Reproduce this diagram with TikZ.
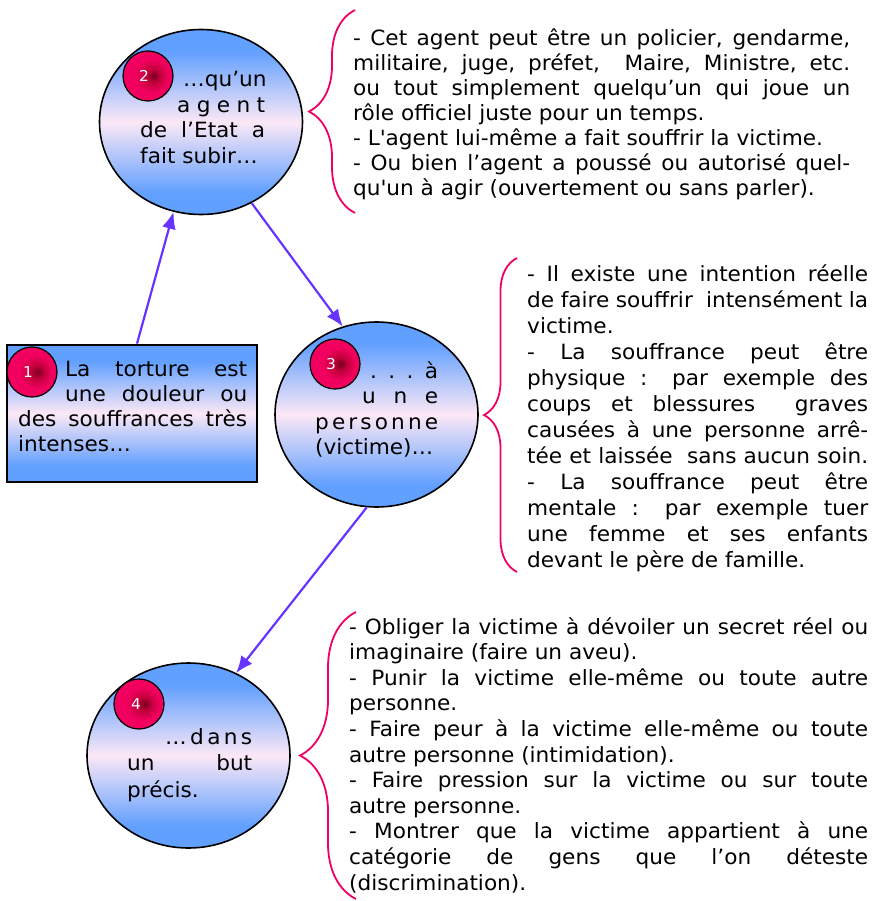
\documentclass[tikz,border=0pt]{standalone}
\usepackage{fontspec}
\setmainfont[FakeStretch=1.03]{DejaVu Sans}
\usepackage{tikz}
\usetikzlibrary{shapes,arrows.meta,positioning,calc,decorations.pathreplacing}
\definecolor{bulleblue}{RGB}{98,160,255}
\definecolor{bullepink}{RGB}{252,232,246}
\definecolor{badgered}{RGB}{242,0,95}
\definecolor{badgemid}{RGB}{195,0,60}
\definecolor{badgedark}{RGB}{120,0,30}
\definecolor{flecheviolet}{RGB}{102,51,255}
\definecolor{accoladerose}{RGB}{240,0,100}
\pgfdeclareverticalshading{bulleshade}{100bp}{color(0bp)=(bulleblue); color(25bp)=(bulleblue); color(31bp)=(bulleblue); color(50bp)=(bullepink); color(69bp)=(bulleblue); color(75bp)=(bulleblue); color(100bp)=(bulleblue)}
\pgfdeclareradialshading{badgeshade}{\pgfpoint{6bp}{0bp}}{color(0bp)=(badgedark); color(7bp)=(badgemid); color(17bp)=(badgered); color(25bp)=(badgered); color(50bp)=(badgered)}
\newcommand{\bloc}[2]{\vtop{\hsize=#1\relax #2}}
\newcommand{\jline}[1]{\hbox to\hsize{#1}}
\newcommand{\pline}[1]{\hbox to\hsize{#1\hfil}}
\tikzset{
    bubble/.style={
        ellipse,
        draw,
        line width=1.6pt,
        minimum width=203pt,
        minimum height=185pt,
        shade,
        shading=bulleshade
    },
    startbox/.style={
        rectangle,
        draw,
        line width=2.8pt,
        minimum width=250pt,
        minimum height=137pt,
        shade,
        shading=bulleshade
    },
    badge/.style={
        circle,
        draw,
        line width=1.2pt,
        minimum size=50pt,
        inner sep=0pt,
        shade,
        shading=badgeshade,
        text=white,
        font=\fontsize{15}{15}\selectfont
    },
    txt/.style={
        inner sep=0pt,
        anchor=base west,
        font=\fontsize{21}{25.5}\selectfont
    },
    arrow/.style={
        -{Latex[length=17pt,width=14pt]},
        line width=2.2pt,
        flecheviolet
    },
    accolade/.style={
        decorate,
        line width=1.8pt,
        accoladerose
    }
}

\begin{document}
\begin{tikzpicture}[x=1pt, y=-1pt]
        \useasboundingbox (0,0) rectangle (876,901);

        % Shapes
        \node (c2) [bubble] at (201,122) {};
        \node (c3) [bubble] at (376.5,414.5) {};
        \node (c4) [bubble] at (188.5,755.5) {};
        \node (r1) [startbox] at (132,413.5) {};

        % Badges
        \node (b1) [badge] at (32,372) {\kern-8pt 1};
        \node (b2) [badge] at (148,76) {\kern-8pt 2};
        \node (b3) [badge] at (335,364) {\kern-8pt 3};
        \node (b4) [badge] at (139,704) {\kern-6pt 4};

        % Texts in the shapes
        \node (t1) [txt, font=\fontsize{21}{25.3}\selectfont] at (18,376) {\bloc{229pt}{%
            \jline{\hskip47pt La\hfill torture\hfill est}%
            \jline{\hskip47pt une\hfill douleur\hfill ou}%
            \jline{des\hfill souffrances\hfill très}%
            \pline{intenses…}}};
        \node (t2) [txt] at (140,87) {\bloc{125pt}{%
            \jline{\hskip43pt …qu’un}%
            \jline{\hskip37pt a\hfill g\hfill e\hfill n\hfill t}%
            \jline{de\hfill l’Etat\hfill a}%
            \pline{fait subir…}}};
        \node (t3) [txt] at (315,378) {\bloc{123pt}{%
            \jline{\hskip55pt .\hfill .\hfill .\hfill à}%
            \jline{\hskip47pt u\hfill n\hfill e}%
            \jline{p\hfill e\hfill r\hfill s\hfill o\hfill n\hfill n\hfill e}%
            \pline{(victime)…}}};
        \node (t4) [txt, font=\fontsize{21}{26.5}\selectfont] at (127,744) {\bloc{125pt}{%
            \jline{\hskip38pt …\hfill d\hfill a\hfill n\hfill s}%
            \jline{un\hfill but}%
            \pline{précis.}}};

        % Explanations
        \node (e2) [txt, font=\fontsize{21}{25}\selectfont] at (353,46) {\bloc{497pt}{%
            \jline{- Cet agent peut être un policier, gendarme,}%
            \jline{militaire, juge, préfet, \ Maire, Ministre, etc.}%
            \jline{ou tout simplement quelqu’un qui joue un}%
            \pline{rôle officiel juste pour un temps.}%
            \pline{- L\textquotesingle agent lui-même a fait souffrir la victime.}%
            \jline{- Ou bien l’agent a poussé ou autorisé quel-}%
            \pline{qu\textquotesingle un à agir (ouvertement ou sans parler).}}};
        \node (e3) [txt, font=\fontsize{21}{26}\selectfont] at (527,281) {\bloc{341pt}{%
            \jline{- Il existe une intention réelle}%
            \jline{de faire souffrir \ intensément la}%
            \pline{victime.}%
            \jline{- La souffrance peut être}%
            \jline{physique : par exemple des}%
            \jline{coups et blessures \ graves}%
            \jline{causées à une personne arrê-}%
            \jline{tée et laissée \ sans aucun soin.}%
            \jline{- La souffrance peut être}%
            \jline{mentale : par exemple tuer}%
            \jline{une femme et ses enfants}%
            \pline{devant le père de famille.}}};
        \node (e4) [txt, font=\fontsize{21}{25.6}\selectfont] at (349,634) {\bloc{519pt}{%
            \jline{- Obliger la victime à dévoiler un secret réel ou}%
            \pline{imaginaire (faire un aveu).}%
            \jline{- Punir la victime elle-même ou toute autre}%
            \pline{personne.}%
            \jline{- Faire peur à la victime elle-même ou toute}%
            \pline{autre personne (intimidation).}%
            \jline{- Faire pression sur la victime ou sur toute}%
            \pline{autre personne.}%
            \jline{- Montrer que la victime appartient à une}%
            \jline{catégorie de gens que l’on déteste}%
            \pline{(discrimination).}}};

        % Arrows
        \draw[arrow] ([xshift=5pt]r1.north) -- (c2.253);
        \draw[arrow] (c2.302) -- (c3.111);
        \draw[arrow] (c3.264) -- (c4.60);

        % Braces
        \draw[accolade, decoration={brace, amplitude=46pt}] (355,213) -- (355,10);
        \draw[accolade, decoration={brace, amplitude=33pt}] (517,572) -- (517,258);
        \draw[accolade, decoration={brace, amplitude=56pt}] (356,899) -- (356,612);
    \end{tikzpicture}
\end{document}
